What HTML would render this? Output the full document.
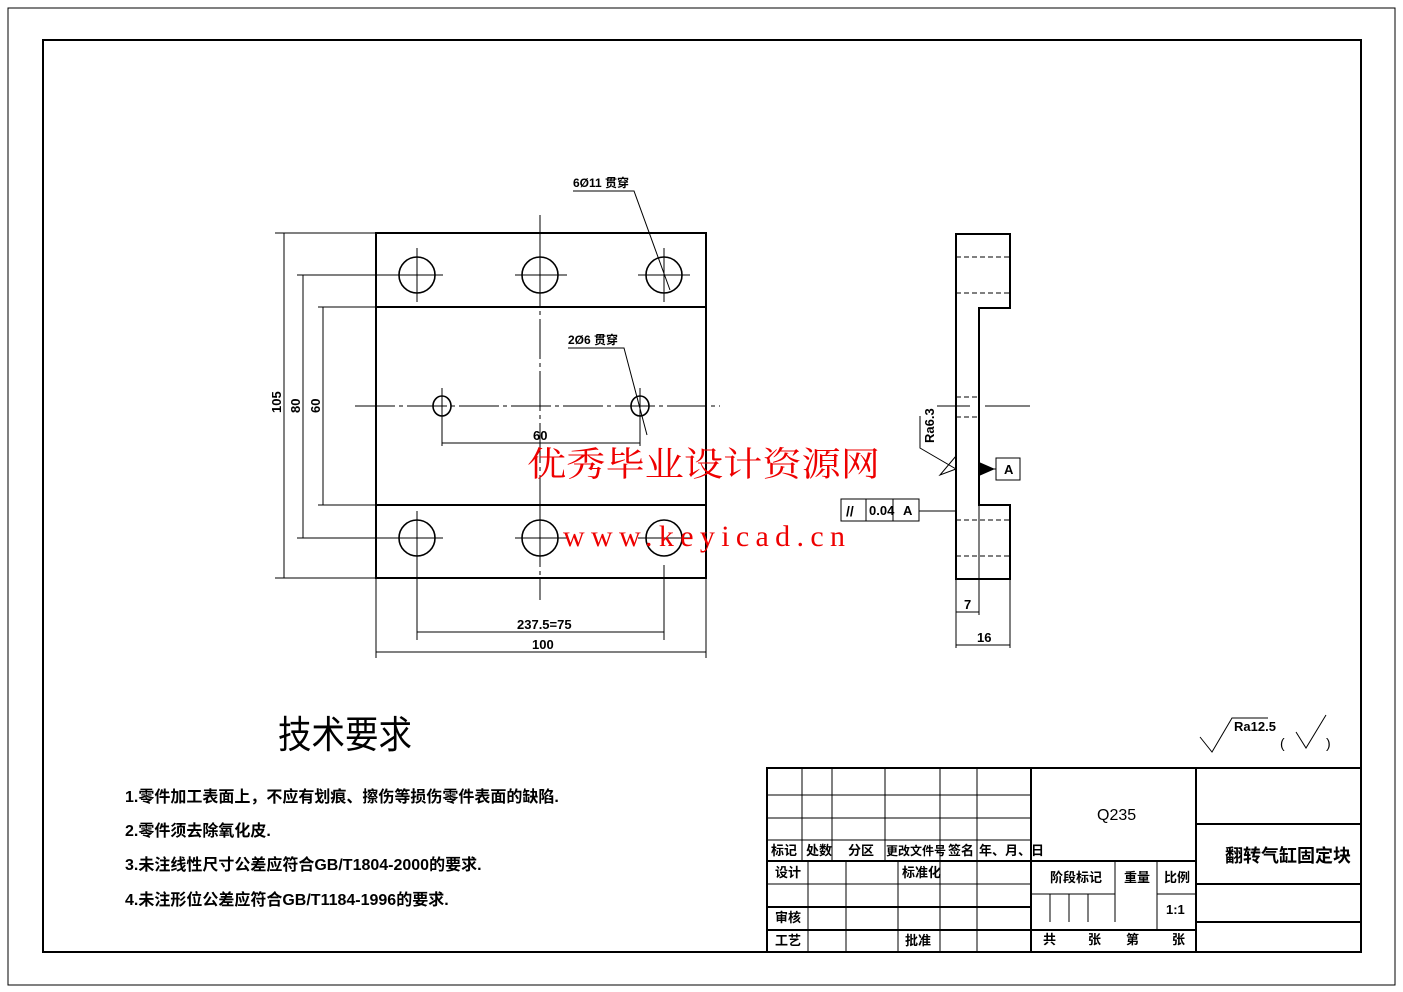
<!DOCTYPE html>
<html><head><meta charset="utf-8"><style>
body{margin:0;background:#fff}
svg{display:block}
text{font-family:"Liberation Sans","Noto Sans CJK SC",sans-serif;fill:#000}
.t{font-size:13px;font-weight:bold}
</style></head><body>
<svg width="1403" height="992" viewBox="0 0 1403 992" xmlns="http://www.w3.org/2000/svg">
<rect x="8" y="8" width="1387" height="977" fill="none" stroke="#000" stroke-width="1"/>
<rect x="43" y="40" width="1318" height="912" fill="none" stroke="#000" stroke-width="2"/>

<!-- front view -->
<g stroke="#000" fill="none">
<rect x="376" y="233" width="330" height="345" stroke-width="2"/>
<line x1="376" y1="307" x2="706" y2="307" stroke-width="2"/>
<line x1="376" y1="505" x2="706" y2="505" stroke-width="2"/>
<g stroke-width="1.6">
<circle cx="417" cy="275" r="18"/><circle cx="540" cy="275" r="18"/><circle cx="664" cy="275" r="18"/>
<circle cx="417" cy="538" r="18"/><circle cx="540" cy="538" r="18"/><circle cx="664" cy="538" r="18"/>
<ellipse cx="442" cy="406" rx="9" ry="10"/><ellipse cx="640" cy="406" rx="9" ry="10"/>
</g>
<g stroke-width="1">
<line x1="540" y1="215" x2="540" y2="600" stroke-dasharray="40 4 4 4"/>
<line x1="355" y1="406" x2="720" y2="406" stroke-dasharray="40 4 4 4"/>
<path d="M417 248V302M393 275H443M540 248V302M515 275H567M664 248V302M638 275H690"/>
<path d="M417 511V565M393 538H443M540 511V565M515 538H567M638 538H690"/>
<path d="M442 388V446M640 388V446"/>
<path d="M442 443H640M417 565V640M664 565V640M417 632H664M376 578V658M706 578V658M376 652H706"/>
<path d="M275 233H376M275 578H376M284 233V578M297 275H417M297 538H417M303 275V538M318 307H376M318 505H376M323 307V505"/>
<path d="M573 191H634L670 290M568 348H624L647 435"/>
</g>
</g>
<g font-size="11" class="t">
<text x="573" y="187" font-size="12">6Ø11 贯穿</text>
<text x="568" y="344" font-size="12">2Ø6 贯穿</text>
<text x="533" y="440">60</text>
<text x="517" y="629">237.5=75</text>
<text x="532" y="649">100</text>
<text transform="translate(281,413) rotate(-90)">105</text>
<text transform="translate(300,413) rotate(-90)">80</text>
<text transform="translate(320,413) rotate(-90)">60</text>
</g>

<!-- side view -->
<g stroke="#000" fill="none">
<path d="M956 234H1010V308H979V505H1010V579H956Z" stroke-width="2"/>
<g stroke-width="1" stroke-dasharray="5 3">
<path d="M956 257H1010M956 293H1010M956 397H979M956 417H979M956 520H1010M956 556H1010"/>
</g>
<path d="M937 406H970M985 406H1030" stroke-width="1"/>
<path d="M956 579V648M1010 579V648M979 505V615M956 612H979M956 645H1010" stroke-width="1"/>
<path d="M920 416V448L956 469L940 475L956 456" stroke-width="1"/>
<path d="M979 469H996" stroke-width="1"/>
<rect x="996" y="458" width="24" height="22"/>
<rect x="841" y="499" width="78" height="22"/>
<path d="M866 499V521M893 499V521M919 511H956"/>
</g>
<polygon points="979,462 995,469 979,476" fill="#000"/>
<g class="t" font-size="11">
<text transform="translate(934,443) rotate(-90)">Ra6.3</text>
<text x="1004" y="474">A</text>
<text x="846" y="516" font-size="14">//</text>
<text x="869" y="515">0.04</text>
<text x="903" y="515">A</text>
<text x="964" y="609">7</text>
<text x="977" y="642">16</text>
</g>

<!-- watermark -->
<text x="527" y="476" font-size="34" textLength="353" lengthAdjust="spacingAndGlyphs" style="fill:#e00;font-family:'Noto Serif CJK SC','Noto Sans CJK SC',serif">优秀毕业设计资源网</text>
<text x="563" y="546" font-size="30" textLength="282" lengthAdjust="spacing" style="fill:#e00;font-family:'Liberation Serif',serif">www.keyicad.cn</text>

<!-- tech reqs -->
<text x="278" y="748" font-size="38" textLength="134" lengthAdjust="spacingAndGlyphs" style="font-family:'Noto Sans CJK SC',sans-serif">技术要求</text>
<g font-size="16" style="font-weight:bold">
<text x="125" y="802">1.零件加工表面上，不应有划痕、擦伤等损伤零件表面的缺陷.</text>
<text x="125" y="836">2.零件须去除氧化皮.</text>
<text x="125" y="870">3.未注线性尺寸公差应符合GB/T1804-2000的要求.</text>
<text x="125" y="905">4.未注形位公差应符合GB/T1184-1996的要求.</text>
</g>
<path d="M1200 737L1212 752L1232 718H1268" stroke="#000" fill="none"/>
<text x="1234" y="731" font-size="10" class="t">Ra12.5</text>
<text x="1280" y="748" font-size="14">(</text>
<path d="M1296 732L1306 748L1326 715" stroke="#000" fill="none"/>
<text x="1326" y="748" font-size="14">)</text>

<!-- title block -->
<g stroke="#000" fill="none">
<rect x="767" y="768" width="594" height="184" stroke-width="2"/>
<path d="M767 795H1031M767 818H1031M767 840H1031M767 861H1031M767 884H1031M767 907H1031M767 930H1031" stroke-width="1"/>
<path d="M767 861H1031M767 907H1031M767 930H1031" stroke-width="2"/>
<path d="M802 768V861M832 768V861M885 768V861M940 768V861M977 768V861" stroke-width="1"/>
<path d="M808 861V952M846 861V952M898 861V952M940 861V952M977 861V952" stroke-width="1"/>
<path d="M1031 768V952M1196 768V952" stroke-width="2"/>
<path d="M1031 861H1196M1031 930H1196M1196 824H1361M1196 884H1361M1196 922H1361" stroke-width="2"/>
<path d="M1115 861V922M1157 861V930M1157 894H1196M1031 894H1115M1050 894V922M1069 894V922M1088 894V922" stroke-width="1"/>
</g>
<g font-size="13" style="font-weight:bold">
<text x="1097" y="820" font-size="16" style="font-weight:normal">Q235</text>
<text x="1225" y="862" font-size="18">翻转气缸固定块</text>
<text x="771" y="855">标记</text><text x="806" y="855">处数</text><text x="848" y="855">分区</text>
<text x="886" y="855" font-size="12">更改文件号</text><text x="948" y="855">签名</text><text x="979" y="855">年、月、日</text>
<text x="775" y="877">设计</text><text x="902" y="877">标准化</text>
<text x="775" y="922">审核</text><text x="775" y="945">工艺</text><text x="905" y="945">批准</text>
<text x="1050" y="882">阶段标记</text><text x="1124" y="882">重量</text><text x="1164" y="882">比例</text>
<text x="1166" y="914">1:1</text>
<text x="1043" y="944">共</text><text x="1088" y="944">张</text><text x="1126" y="944">第</text><text x="1172" y="944">张</text>
</g>
</svg>
</body></html>
